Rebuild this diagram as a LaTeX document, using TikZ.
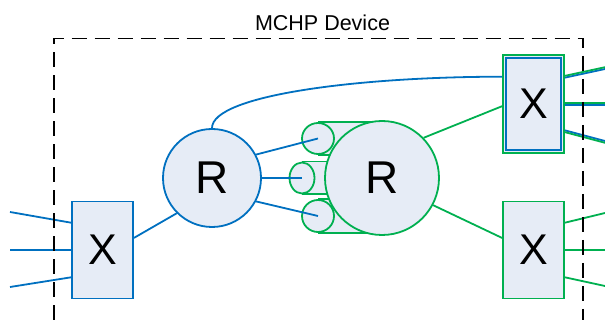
\documentclass[tikz,border=0pt]{standalone}
\usepackage{fontspec}
\setmainfont{Liberation Sans}
\usetikzlibrary{calc,shapes.geometric}
\definecolor{mblue}{RGB}{0,112,192}
\definecolor{mgreen}{RGB}{0,176,80}
\definecolor{mfill}{RGB}{230,236,246}
\pgfdeclarelayer{bg}
\pgfsetlayers{bg,main}
\begin{document}
\begin{tikzpicture}[x=1pt,y=-1pt,
  bluel/.style={draw=mblue,line width=1.8pt},
  greenl/.style={draw=mgreen,line width=1.8pt},
  xbox/.style={rectangle,fill=mfill,minimum width=61pt,minimum height=97pt,inner sep=0pt,font=\fontsize{43}{43}\selectfont,line width=1.8pt},
  rcirc/.style={circle,fill=mfill,inner sep=0pt,line width=1.8pt,font=\fontsize{46}{46}\selectfont},
  cyl/.style={ellipse,fill=mfill,draw=mgreen,line width=1.8pt,inner sep=0pt},
  frame/.style={line width=1.8pt,dash pattern=on 15pt off 8pt}
  ]
\useasboundingbox (0,0) rectangle (605,320);

% title
\node[anchor=base,font=\fontsize{21.5}{21.5}\selectfont,inner sep=0pt] (title) at (322.5,31) {MCHP Device};

% main nodes
\node[xbox,draw=mblue] (X1) at (102.5,250) {X};
\node[rcirc,draw=mblue,minimum size=98pt] (R1) at (212,178) {R};
\node[rcirc,draw=mgreen,minimum size=114pt] (R2) at (382,178) {R};
\node[xbox,draw=mgreen,minimum height=98pt] (X2) at (533.5,104) {X};
\draw[mblue,line width=1.5pt] ($(X2.north west)+(3.8,3.8)$) rectangle ($(X2.south east)+(-3.8,-3.8)$);
\node[xbox,draw=mgreen] (X3) at (533.5,250) {X};

% cylinder ends
\node[cyl,minimum width=32pt,minimum height=31pt] (C1) at (318,138.5) {};
\node[cyl,minimum width=25pt,minimum height=31pt] (C2) at (302,178) {};
\node[cyl,minimum width=32pt,minimum height=32pt] (C3) at (318,216) {};
\begin{pgfonlayer}{bg}
  \foreach \cy in {C1,C2,C3} {
    \fill[mfill] (\cy.north) rectangle (\cy.south -| R2.center);
    \draw[greenl] (\cy.north) -- (\cy.north -| R2.center);
    \draw[greenl] (\cy.south) -- (\cy.south -| R2.center);
  }
\end{pgfonlayer}

% connectors
\draw[bluel] (X1.21) -- (R1.225);
\draw[bluel] (R1.28) -- (C1.center);
\draw[bluel] (R1.east) -- (C2.center);
\draw[bluel] (R1.-28) -- (C3.center);
\draw[bluel] (R1.north) .. controls +(0,-33) and +(-143,0) .. (X2.139.6);
\draw[greenl] (R2.44) -- (X2.184);
\draw[greenl] (R2.-28) -- (X3.159);

% left inputs
\coordinate (L1) at (10,212);
\coordinate (L2) at (10,250);
\coordinate (L3) at (10,287);
\draw[bluel] (L1) -- (X1.139);
\draw[bluel] (L2) -- (X1.west);
\draw[bluel] (L3) -- (X1.221);

% upper right outputs (double)
\coordinate (U1) at (605,69);
\coordinate (U2) at (605,105);
\coordinate (U3) at (605,141);
\draw[bluel] (X2.40) -- (U1);
\draw[greenl] ($(X2.40)+(0,-1.8)$) -- ($(U1)+(0,-1.8)$);
\draw[bluel] ($(X2.east)+(0,1)$) -- (U2);
\draw[greenl] ($(X2.east)+(0,-0.8)$) -- ($(U2)+(0,-1.8)$);
\draw[bluel] (X2.-40) -- (U3);
\draw[greenl] ($(X2.-40)+(0,1.8)$) -- ($(U3)+(0,1.8)$);

% lower right outputs
\coordinate (V1) at (605,213);
\coordinate (V2) at (605,250);
\coordinate (V3) at (605,286);
\draw[greenl] (X3.41) -- (V1);
\draw[greenl] (X3.east) -- (V2);
\draw[greenl] (X3.-41) -- (V3);

% device frame
\coordinate (F1) at (54,320);
\coordinate (F2) at (54,38.5);
\coordinate (F3) at (583,38.5);
\coordinate (F4) at (583,320);
\draw[frame] (F1) -- (F2) -- (F3) -- (F4);
\end{tikzpicture}
\end{document}
